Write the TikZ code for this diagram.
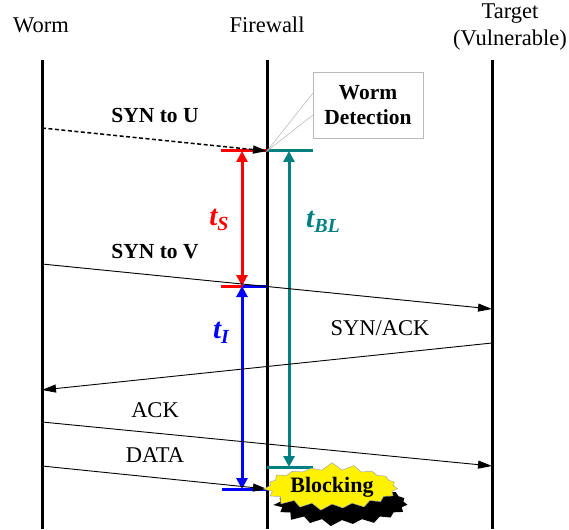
\documentclass[tikz,border=0pt]{standalone}
\usepackage{fontspec}
\setmainfont{Liberation Serif}
\usetikzlibrary{arrows.meta,shapes.symbols}

\definecolor{tealbar}{RGB}{0,128,128}

\begin{document}
\begin{tikzpicture}[x=1pt,y=-1pt,
  lifeline/.style={line width=3pt},
  msg/.style={line width=0.9pt,-{Triangle[length=14pt,width=8pt]}},
  lbl/.style={font=\fontsize{22.5}{27}\selectfont},
  blbl/.style={font=\fontsize{21.5}{25}\selectfont\bfseries},
  span/.style={line width=3pt,{Triangle[length=11pt,width=11pt]}-{Triangle[length=11pt,width=11pt]}},
  tickline/.style={line width=3pt},
  tlabel/.style={font=\fontsize{29}{30}\selectfont\bfseries\itshape},
  burst/.style={shape=starburst,starburst points=19,starburst point height=8pt,
    random starburst=7,minimum width=112pt,minimum height=26pt,inner sep=2pt,
    font=\fontsize{22}{24}\selectfont\bfseries},
]
\useasboundingbox (0,0) rectangle (569,529);

% lifelines
\coordinate (wT) at (42,60);  \coordinate (wB) at (42,529);
\coordinate (fT) at (267,60); \coordinate (fB) at (267,529);
\coordinate (tT) at (492,60); \coordinate (tB) at (492,529);
\draw[lifeline] (wT) -- (wB);
\draw[lifeline] (fT) -- (fB);
\draw[lifeline] (tT) -- (tB);

% headings
\node[lbl] (hworm) at (41,25) {Worm};
\node[lbl] (hfw) at (267,25) {Firewall};
\node[lbl,align=center] (htgt) at (510,27) {Target\\(Vulnerable)};

% message end points
\coordinate (u1) at (42,128);  \coordinate (u2) at (267,151);
\coordinate (v1) at (42,264);  \coordinate (v2) at (492,309);
\coordinate (s1) at (492,343); \coordinate (s2) at (42,390);
\coordinate (a1) at (42,422);  \coordinate (a2) at (492,466);
\coordinate (d1) at (42,466);  \coordinate (d2) at (267,489);

% timing markers
\coordinate (rL) at (221,151);  \coordinate (rR) at (267,151);
\coordinate (gL) at (267,151);  \coordinate (gR) at (313,151);
\coordinate (r2L) at (221,286); \coordinate (r2R) at (243,286);
\coordinate (b1L) at (243,286); \coordinate (b1R) at (267,286);
\coordinate (b2L) at (222,489); \coordinate (b2R) at (267,489);
\coordinate (g2L) at (267,467); \coordinate (g2R) at (313,467);
\coordinate (sTop) at (242,151); \coordinate (sBot) at (242,286);
\coordinate (iBot) at (242,489);
\coordinate (gTop) at (289,151); \coordinate (gBot) at (289,467);

\draw[tickline,red] (rL) -- (rR);
\draw[tickline,tealbar] (gL) -- (gR);
\draw[tickline,blue] (b1L) -- (b1R);
\draw[tickline,red] (r2L) -- (r2R);
\draw[tickline,blue] (b2L) -- (b2R);
\draw[tickline,tealbar] (g2L) -- (g2R);

\draw[span,red] (sTop) -- (sBot);
\draw[span,blue] (sBot) -- (iBot);
\draw[span,tealbar] (gTop) -- (gBot);

\node[tlabel,red] (ts) at (219,220) {t\raisebox{-0.35ex}{\fontsize{20}{20}\selectfont S}};
\node[tlabel,tealbar] (tbl) at (323,222) {t\raisebox{-0.35ex}{\fontsize{20}{20}\selectfont BL}};
\node[tlabel,blue] (ti) at (221,333) {t\raisebox{-0.35ex}{\fontsize{20}{20}\selectfont I}};

% messages
\draw[msg,line width=1.5pt,dash pattern=on 4pt off 2.5pt] (u1) -- (u2);
\draw[msg] (v1) -- (v2);
\draw[msg] (s1) -- (s2);
\draw[msg] (a1) -- (a2);
\draw[msg] (d1) -- (d2);

\node[blbl] (lu) at (155,115) {SYN to U};
\node[blbl] (lv) at (155,252) {SYN to V};
\node[lbl] (lsa) at (380,328) {SYN/ACK};
\node[lbl] (lack) at (155,410) {ACK};
\node[lbl] (ldata) at (155,455) {DATA};

% detection callout
\node[draw=gray!55,line width=0.7pt,fill=white,minimum width=110pt,minimum height=66pt,
  align=center,blbl] (det) at (368,105) {Worm\\Detection};
\coordinate (p1) at (313,93); \coordinate (p2) at (313,115);
\draw[gray!60,line width=0.5pt] (p1) -- (u2) -- (p2);

% blocking burst with drop shadow
\node[burst,fill=black] (shadow) at (342,503) {\phantom{Blocking}};
\node[burst,fill=yellow,draw=gray!70,line width=0.5pt] (blk) at (332,487) {Blocking};
\end{tikzpicture}
\end{document}
